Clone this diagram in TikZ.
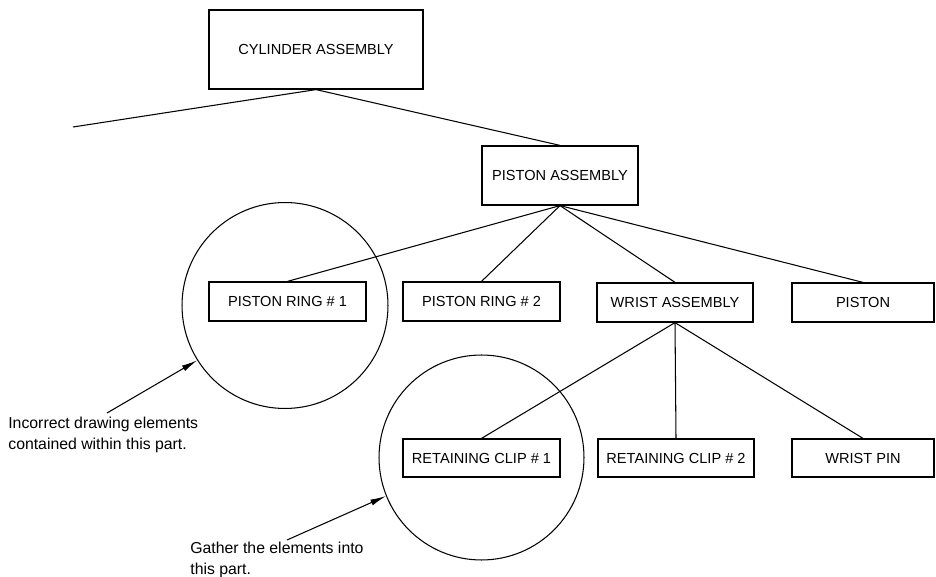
\documentclass[tikz,border=0pt]{standalone}
\usepackage{fontspec}
\usepackage{tikz}
\usetikzlibrary{arrows.meta}
\setmainfont{Liberation Sans}
\definecolor{ink}{HTML}{000000}
\definecolor{paper}{HTML}{FFFFFF}

\tikzset{
  partbox/.style={draw=ink, line width=0.7pt, inner sep=0pt, fill=paper,
    font=\fontsize{8.3}{10}\selectfont},
  treeline/.style={draw=ink, line width=0.6pt},
  gathercircle/.style={circle, draw=ink, line width=0.6pt, inner sep=0pt},
  notetext/.style={anchor=north west, inner sep=0pt, align=left,
    font=\fontsize{9}{12}\selectfont},
  notearrow/.style={draw=ink, line width=0.6pt, -{Latex[length=9pt,width=3.5pt]}}
}

\begin{document}
\begin{tikzpicture}[x=0.02cm, y=-0.02cm]

\useasboundingbox (0,0) rectangle (936,577);

% =========================
% GATHER CIRCLES (behind the boxes)
% =========================
\node[gathercircle, minimum size=4.12cm] (ringcirc) at (285,305.5) {};
\node[gathercircle, minimum size=4.10cm] (clipcirc) at (481.5,457.5) {};

% =========================
% TOP LEVEL
% =========================
\node[partbox, minimum width=4.28cm, minimum height=1.58cm] (cyl) at (316,49.5)
{CYLINDER ASSEMBLY};
\coordinate (cylfree) at (73,127);

\node[partbox, minimum width=3.12cm, minimum height=1.18cm] (pasm) at (560,175.5)
{PISTON ASSEMBLY};

% =========================
% SECOND LEVEL
% =========================
\node[partbox, minimum width=3.14cm, minimum height=0.78cm] (ring1) at (287.5,301.5)
{PISTON RING \# 1};
\node[partbox, minimum width=3.14cm, minimum height=0.78cm] (ring2) at (481.5,301.5)
{PISTON RING \# 2};
\node[partbox, minimum width=3.12cm, minimum height=0.78cm] (wasm) at (675,302.5)
{WRIST ASSEMBLY};
\node[partbox, minimum width=2.84cm, minimum height=0.78cm] (piston) at (863,302.5)
{PISTON};

% =========================
% THIRD LEVEL
% =========================
\node[partbox, minimum width=3.14cm, minimum height=0.76cm] (clip1) at (481.5,458)
{RETAINING CLIP \# 1};
\node[partbox, minimum width=3.12cm, minimum height=0.76cm] (clip2) at (676,458)
{RETAINING CLIP \# 2};
\node[partbox, minimum width=2.84cm, minimum height=0.76cm] (wpin) at (863,458)
{WRIST PIN};

% =========================
% TREE CONNECTORS
% =========================
\draw[treeline] (cylfree) -- (cyl.south) -- (pasm.north);
\foreach \kid in {ring1,ring2,wasm,piston} {
    \draw[treeline] (pasm.south) -- (\kid.north);
}
\foreach \kid in {clip1,clip2,wpin} {
    \draw[treeline] (wasm.south) -- (\kid.north);
}

% =========================
% NOTES
% =========================
\node[notetext] (badnote) at (8,417)
{Incorrect drawing elements\\contained within this part.};
\coordinate (badfoot) at (107,413);
\draw[notearrow] (badfoot) -- (ringcirc.212.5);

\node[notetext] (gathernote) at (190,542)
{Gather the elements into\\this part.};
\coordinate (gatherfoot) at (287,540);
\draw[notearrow] (gatherfoot) -- (clipcirc.202.7);

\end{tikzpicture}
\end{document}
